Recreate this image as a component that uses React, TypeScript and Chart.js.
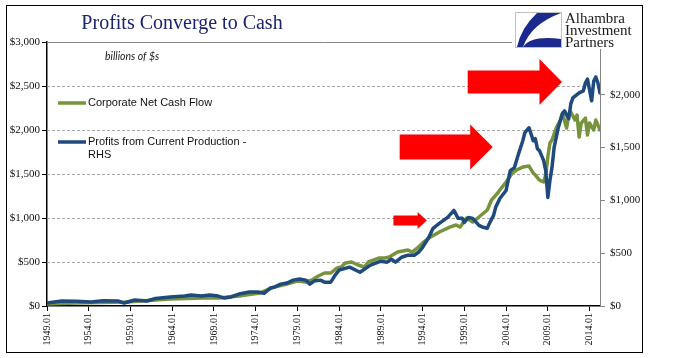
import React, { useEffect, useRef } from "react";
import { Chart, registerables } from "chart.js";

Chart.register(...registerables);

// ---- Axis ticks ----
const tickYears = [1949, 1954, 1959, 1964, 1969, 1974, 1979, 1984, 1989, 1994, 1999, 2004, 2009, 2014];
const tickLabels = ["1949.01", "1954.01", "1959.01", "1964.01", "1969.01", "1974.01", "1979.01", "1984.01", "1989.01", "1994.01", "1999.01", "2004.01", "2009.01", "2014.01"];
const leftTicks = [0, 500, 1000, 1500, 2000, 2500, 3000];
const rightTicks = [0, 500, 1000, 1500, 2000, 2500];

// ---- Corporate Net Cash Flow (left axis, billions of $) ----
const cashYears = [
  1949.0, 1952.5, 1958.5, 1963.75, 1967.75, 1969.5, 1972.0, 1974.5, 1976.25, 1977.75,
  1979.0, 1980.0, 1980.75, 1981.5, 1982.25, 1983.0, 1983.75, 1984.25, 1984.75, 1985.5,
  1986.25, 1987.0, 1987.5, 1988.75, 1989.5, 1990.0, 1991.0, 1992.25, 1992.75, 1993.5,
  1994.0, 1994.75, 1996.0, 1997.25, 1998.0, 1998.5, 1999.25, 2000.0, 2000.75, 2001.75,
  2002.25, 2003.0, 2003.25, 2004.0, 2004.75, 2005.25, 2006.0, 2006.75, 2007.25, 2007.5,
  2008.0, 2008.5, 2008.75, 2009.0, 2009.25, 2009.5, 2010.0, 2010.5, 2010.75, 2011.25,
  2011.5, 2011.75, 2012.25, 2012.5, 2012.75, 2013.0, 2013.5, 2013.75, 2014.0, 2014.5,
  2014.75, 2015.25,
];
const cashValues = [
  23, 34, 45, 80, 91, 91, 114, 148, 216, 250,
  284, 273, 295, 341, 375, 375, 432, 443, 488, 500,
  466, 443, 500, 545, 545, 557, 613, 636, 613, 670,
  716, 772, 841, 897, 920, 897, 1000, 954, 1011, 1091,
  1204, 1284, 1318, 1409, 1511, 1545, 1579, 1590, 1511, 1488,
  1431, 1409, 1488, 1693, 1852, 1886, 2022, 2113, 2192, 2022,
  2170, 2204, 2113, 2170, 1920, 2079, 2136, 1943, 2079, 2000,
  2113, 2000,
];

// ---- Profits from Current Production (right axis, billions of $) ----
const profitYears = [
  1949.0, 1950.75, 1952.5, 1954.25, 1955.75, 1957.5, 1958.25, 1959.5, 1961.0, 1962.0,
  1963.75, 1965.5, 1966.25, 1967.5, 1968.5, 1969.5, 1970.25, 1971.0, 1972.0, 1973.25,
  1974.25, 1975.0, 1975.75, 1976.25, 1977.0, 1977.75, 1978.5, 1979.25, 1980.0, 1980.5,
  1981.0, 1981.75, 1982.25, 1983.0, 1983.5, 1984.0, 1985.25, 1986.5, 1987.75, 1989.0,
  1989.75, 1990.25, 1990.75, 1991.5, 1992.25, 1993.0, 1993.5, 1994.0, 1994.75, 1995.25,
  1996.0, 1997.0, 1997.75, 1998.25, 1998.75, 1999.0, 1999.5, 2000.0, 2000.75, 2001.25,
  2001.75, 2002.0, 2002.5, 2002.75, 2003.25, 2004.0, 2004.5, 2005.0, 2005.5, 2006.0,
  2006.25, 2006.75, 2007.25, 2007.5, 2007.75, 2008.0, 2008.5, 2008.75, 2009.0, 2009.25,
  2009.5, 2009.75, 2010.25, 2010.75, 2011.0, 2011.5, 2011.75, 2012.0, 2012.75, 2013.25,
  2013.5, 2013.75, 2014.25, 2014.5, 2014.75, 2015.0, 2015.25,
];
const profitValues = [
  28, 47, 45, 38, 50, 47, 28, 57, 47, 72,
  85, 95, 104, 95, 104, 94, 75, 85, 113, 132,
  132, 120, 170, 179, 207, 217, 245, 255, 245, 207,
  236, 245, 226, 226, 290, 340, 368, 320, 387, 424,
  415, 443, 415, 462, 481, 481, 509, 556, 651, 736,
  783, 839, 905, 830, 830, 792, 839, 830, 764, 745,
  736, 783, 858, 934, 1018, 1094, 1282, 1311, 1443, 1565,
  1641, 1688, 1565, 1584, 1490, 1471, 1377, 1282, 1028, 1188,
  1311, 1499, 1688, 1820, 1848, 1773, 1914, 1971, 2018, 2037,
  2112, 2150, 1943, 2131, 2169, 2112, 2018,
];

// ---- Red arrow annotations (x in years, level on left axis) ----
const arrows = [
  { tail: 1990.5, base: 1993.4, tip: 1994.5, level: 971, body: 5, head: 8.5 },
  { tail: 1991.25, base: 1999.7, tip: 2002.4, level: 1806, body: 12.5, head: 22.5 },
  { tail: 1999.4, base: 2008.0, tip: 2010.7, level: 2545, body: 11.5, head: 23 },
];

const GREEN = "#77933C";
const BLUE = "#1F4A7E";
const SERIF = "'Liberation Serif', 'Times New Roman', serif";
const SANS = "'Liberation Sans', Arial, sans-serif";

const money = (v: number) => "$" + Number(v).toLocaleString("en-US");

const decor = {
  id: "decor",
  beforeDatasetsDraw(chart: any) {
    const { ctx, chartArea: a, scales } = chart;
    const ys = scales.y;
    ctx.save();
    ctx.lineWidth = 1;
    ctx.strokeStyle = "#a6a6a6";
    ctx.setLineDash([3, 2]);
    leftTicks.forEach((v) => {
      if (v === 0 || v === ys.max) return;
      const py = Math.round(ys.getPixelForValue(v)) + 0.5;
      ctx.beginPath();
      ctx.moveTo(a.left, py);
      ctx.lineTo(a.right, py);
      ctx.stroke();
    });
    ctx.setLineDash([]);
    ctx.strokeStyle = "#868686";
    const pt = Math.round(ys.getPixelForValue(ys.max)) + 0.5;
    ctx.beginPath();
    ctx.moveTo(a.left, pt);
    ctx.lineTo(a.right, pt);
    ctx.stroke();
    ctx.restore();
  },
  afterDraw(chart: any) {
    const { ctx, scales } = chart;
    const xs = scales.x;
    const ys = scales.y;
    ctx.save();

    // arrows
    ctx.fillStyle = "#FF0000";
    arrows.forEach((ar) => {
      const x0 = xs.getPixelForValue(ar.tail);
      const xb = xs.getPixelForValue(ar.base);
      const xt = xs.getPixelForValue(ar.tip);
      const yc = ys.getPixelForValue(ar.level);
      ctx.beginPath();
      ctx.moveTo(x0, yc - ar.body);
      ctx.lineTo(xb, yc - ar.body);
      ctx.lineTo(xb, yc - ar.head);
      ctx.lineTo(xt, yc);
      ctx.lineTo(xb, yc + ar.head);
      ctx.lineTo(xb, yc + ar.body);
      ctx.lineTo(x0, yc + ar.body);
      ctx.closePath();
      ctx.fill();
    });

    // logo background
    ctx.fillStyle = "#ffffff";
    ctx.fillRect(512, 6, 130, 43);
    // logo box
    ctx.strokeStyle = "#c0c0c0";
    ctx.lineWidth = 1;
    ctx.strokeRect(515.5, 12.5, 46, 35);
    ctx.fillStyle = "#1b2a8c";
    ctx.beginPath();
    ctx.moveTo(537, 13);
    ctx.lineTo(561, 13);
    ctx.quadraticCurveTo(531, 24, 523, 47);
    ctx.lineTo(517, 47);
    ctx.quadraticCurveTo(521, 28, 537, 13);
    ctx.closePath();
    ctx.fill();
    ctx.beginPath();
    ctx.moveTo(523, 47);
    ctx.quadraticCurveTo(531, 35, 561, 39);
    ctx.lineTo(561, 47);
    ctx.closePath();
    ctx.fill();
    ctx.fillStyle = "#1a1a1a";
    ctx.font = `15px ${SERIF}`;
    ctx.textAlign = "left";
    ctx.textBaseline = "alphabetic";
    ctx.fillText("Alhambra", 565, 23);
    ctx.fillText("Investment", 565, 35);
    ctx.fillText("Partners", 565, 47);

    // title
    ctx.fillStyle = "#1c2270";
    ctx.font = `20px ${SERIF}`;
    ctx.textAlign = "center";
    ctx.fillText("Profits Converge to Cash", 182, 29);

    // units note
    ctx.fillStyle = "#222";
    ctx.font = "italic 10.5px Lato, 'Liberation Sans', sans-serif";
    ctx.textAlign = "left";
    ctx.textBaseline = "middle";
    ctx.fillText("billions of $s", 105, 57);

    // legend
    ctx.lineCap = "butt";
    ctx.lineWidth = 3.5;
    ctx.strokeStyle = GREEN;
    ctx.beginPath();
    ctx.moveTo(58, 103);
    ctx.lineTo(86, 103);
    ctx.stroke();
    ctx.strokeStyle = BLUE;
    ctx.beginPath();
    ctx.moveTo(58, 142);
    ctx.lineTo(86, 142);
    ctx.stroke();
    ctx.fillStyle = "#111";
    ctx.font = `11px ${SANS}`;
    ctx.fillText("Corporate Net Cash Flow", 88, 103);
    ctx.fillText("Profits from Current Production -", 88, 142);
    ctx.fillText("RHS", 88, 155);

    // outer frame
    ctx.strokeStyle = "#000";
    ctx.lineWidth = 1;
    ctx.strokeRect(6.5, 5.5, 636, 347);
    ctx.restore();
  },
};

export default function App() {
  const ref = useRef<HTMLCanvasElement | null>(null);

  useEffect(() => {
    if (!ref.current) return;
    const chart = new Chart(ref.current, {
      type: "line",
      data: {
        datasets: [
          {
            label: "Profits from Current Production - RHS",
            data: profitYears.map((x, i) => ({ x, y: profitValues[i] })),
            yAxisID: "y1",
            borderColor: BLUE,
            backgroundColor: BLUE,
            borderWidth: 3.5,
            pointRadius: 0,
            order: 0,
          },
          {
            label: "Corporate Net Cash Flow",
            data: cashYears.map((x, i) => ({ x, y: cashValues[i] })),
            yAxisID: "y",
            borderColor: GREEN,
            backgroundColor: GREEN,
            borderWidth: 3.5,
            pointRadius: 0,
            order: 1,
          },
        ],
      },
      options: {
        responsive: false,
        animation: false,
        devicePixelRatio: 1,
        layout: { padding: { top: 42, left: 0, right: 0, bottom: 0 } },
        elements: { line: { tension: 0, borderJoinStyle: "round", borderCapStyle: "round" } },
        plugins: {
          legend: { display: false },
          title: { display: false },
          tooltip: { enabled: false },
        },
        scales: {
          x: {
            type: "linear",
            position: "bottom",
            min: 1949,
            max: 2015.25,
            afterBuildTicks: (s: any) => {
              s.ticks = tickYears.map((v) => ({ value: v }));
            },
            afterFit: (s: any) => {
              s.height = 52;
            },
            ticks: {
              autoSkip: false,
              minRotation: 90,
              maxRotation: 90,
              padding: 2,
              color: "#111",
              font: { family: SERIF, size: 10 },
              callback: (v: any) => tickLabels[tickYears.indexOf(Number(v))] ?? "",
            },
            grid: { drawOnChartArea: false, drawTicks: true, tickLength: 5, tickColor: "#000", tickBorderDash: [] },
            border: { color: "#000", width: 1.5 },
          },
          y: {
            position: "left",
            min: 0,
            max: 3000,
            afterBuildTicks: (s: any) => {
              s.ticks = leftTicks.map((v) => ({ value: v }));
            },
            afterFit: (s: any) => {
              s.width = 47;
            },
            ticks: {
              padding: 2,
              color: "#111",
              font: { family: SERIF, size: 11 },
              callback: (v: any) => money(v),
            },
            grid: { drawOnChartArea: false, drawTicks: true, tickLength: 5, tickColor: "#000", tickBorderDash: [] },
            border: { color: "#000", width: 1.5 },
          },
          y1: {
            position: "right",
            min: 0,
            max: 2500,
            afterBuildTicks: (s: any) => {
              s.ticks = rightTicks.map((v) => ({ value: v }));
            },
            afterFit: (s: any) => {
              s.width = 75;
            },
            ticks: {
              padding: 5,
              color: "#111",
              font: { family: SERIF, size: 11 },
              callback: (v: any) => (Number(v) >= 2500 ? "" : money(v)),
            },
            grid: { drawOnChartArea: false, drawTicks: true, tickLength: 5, tickColor: "#868686", tickBorderDash: [] },
            border: { color: "#868686", width: 1 },
          },
        },
      },
      plugins: [decor],
    } as any);
    return () => chart.destroy();
  }, []);

  return (
    <div style={{ position: "fixed", left: 0, top: 0, width: 675, height: 358, background: "#fff" }}>
      <canvas ref={ref} width={675} height={358} style={{ display: "block", width: 675, height: 358 }} />
    </div>
  );
}
